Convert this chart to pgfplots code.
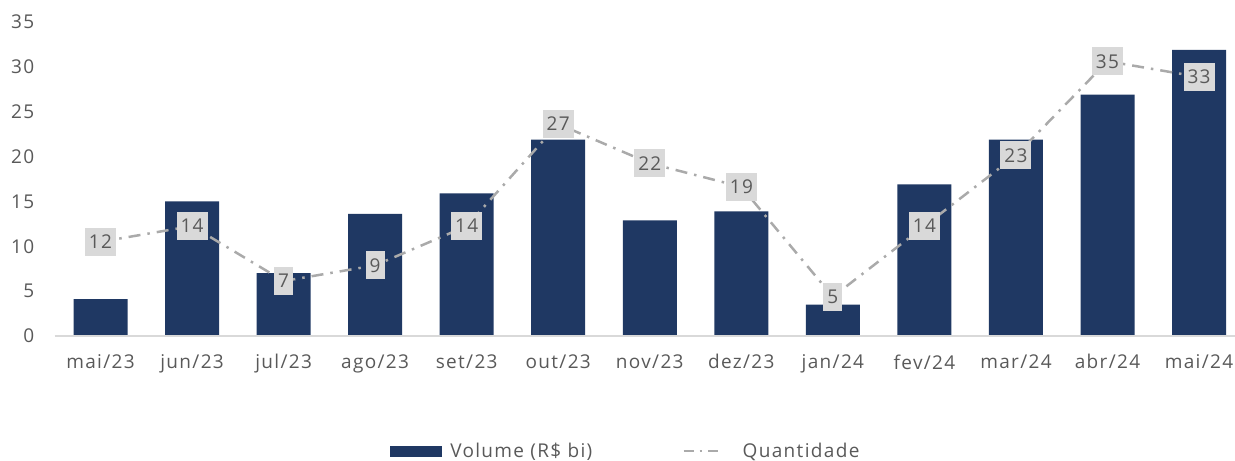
\documentclass[border=0pt]{standalone}
\usepackage{fontspec}
\setmainfont{Open Sans}[LetterSpace=7]
\usepackage{pgfplots}
\pgfplotsset{compat=1.18}
\pgfplotsset{/pgf/number format/assume math mode=true}
\definecolor{navy}{RGB}{31,56,99}
\definecolor{lgray}{RGB}{170,170,170}
\definecolor{boxgray}{RGB}{217,217,217}
\definecolor{tgray}{RGB}{89,89,89}
\definecolor{agray}{RGB}{217,217,217}
\newcommand{\fs}{\fontsize{19bp}{22bp}\selectfont}
\begin{document}
\fs
\begin{tikzpicture}[x=1bp,y=1bp]
\path[use as bounding box] (-54.75,-125) rectangle (1180.25,336);
\begin{axis}[at={(0,0)}, anchor=south west, scale only axis,
  width=1180bp, height=314bp,
  xmin=-0.5, xmax=12.39, ymin=0, ymax=35,
  ytick={0,5,...,35}, xtick={0,...,12},
  xticklabels={mai/23,jun/23,jul/23,ago/23,set/23,out/23,nov/23,dez/23,jan/24,fev/24,mar/24,abr/24,mai/24},
  axis line style={draw=none}, major tick length=0pt,
  tick label style={text=tgray, font=\fs},
  yticklabel style={anchor=east, xshift=-14bp},
  xticklabel style={yshift=-12bp},
  clip=false,
  legend style={at={(0.484,-0.367)}, anchor=center, draw=none, fill=none,
    legend columns=2, text=tgray, font=\fs,
    /tikz/every even column/.append style={column sep=88bp}},
]
\addplot[ybar, bar width=54bp, fill=navy, draw=none,
  legend image code/.code={\fill[navy] (0bp,-5.5bp) rectangle (52bp,5.5bp); \path (58bp,0bp);}]
  coordinates {(0,4.1) (1,15) (2,7) (3,13.6) (4,15.9) (5,21.9) (6,12.9) (7,13.9) (8,3.5) (9,16.9) (10,21.9) (11,26.9) (12,31.9)};
\addlegendentry{Volume (R\$ bi)}
\addlegendimage{legend image code/.code={\draw[lgray, line width=2.5bp, dash pattern=on 10bp off 6bp on 2.5bp off 6bp] (0bp,0bp) -- (37bp,0bp); \path (57bp,0bp);}}
\addlegendentry{Quantidade}
\draw[agray, line width=1.2bp] (rel axis cs:0,0) -- (rel axis cs:1,0);
\end{axis}
\begin{axis}[at={(0,0)}, anchor=south west, scale only axis,
  width=1180bp, height=314bp,
  xmin=-0.5, xmax=12.39, ymin=0, ymax=40, hide axis, clip=false]
\addplot[lgray, line width=2.5bp, dash pattern=on 12bp off 7bp on 2.5bp off 7bp,
  nodes near coords,
  every node near coord/.append style={anchor=center, fill=boxgray, text=tgray,
    inner xsep=4bp, inner ysep=0pt, minimum height=28bp, font=\fs}]
  coordinates {(0,12) (1,14) (2,7) (3,9) (4,14) (5,27) (6,22) (7,19) (8,5) (9,14) (10,23) (11,35) (12,33)};
\end{axis}
\end{tikzpicture}
\end{document}
